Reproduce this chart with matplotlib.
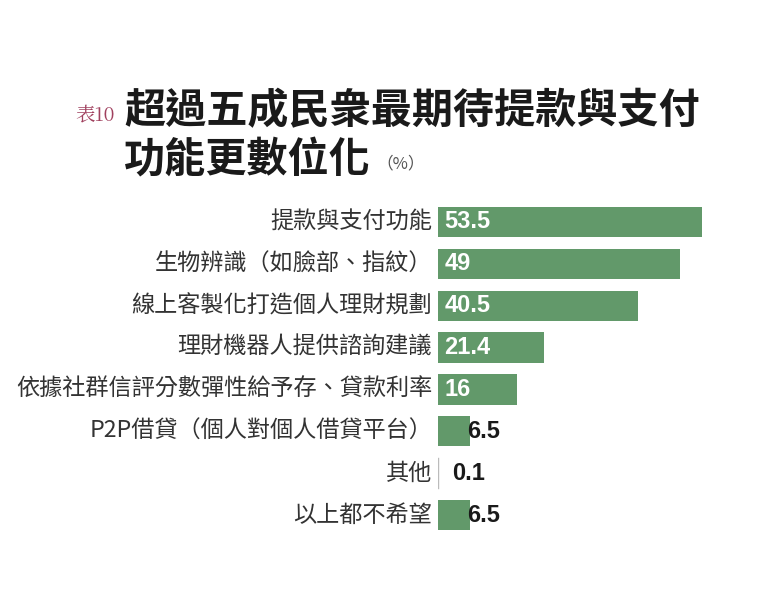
import matplotlib
matplotlib.use('Agg')
import matplotlib.pyplot as plt

plt.rcParams['font.family'] = ['Noto Sans CJK TC', 'DejaVu Sans']

# data
labels = ['提款與支付功能', '生物辨識（如臉部、指紋）', '線上客製化打造個人理財規劃',
          '理財機器人提供諮詢建議', '依據社群信評分數彈性給予存、貸款利率',
          'P2P借貸（個人對個人借貸平台）', '其他', '以上都不希望']
values = [53.5, 49, 40.5, 21.4, 16, 6.5, 0.1, 6.5]
value_text = ['53.5', '49', '40.5', '21.4', '16', '6.5', '0.1', '6.5']

green = '#62996a'
W, H = 759, 597
fig = plt.figure(figsize=(W / 100, H / 100), dpi=100)

ax = fig.add_axes([438 / W, 1 - 536 / H, 321 / W, 335 / H])
ypos = list(range(len(values)))
ax.barh(ypos, values, height=0.72, color=green)
ax.set_xlim(0, 65)
ax.set_ylim(len(values) - 0.5, -0.5)
ax.axis('off')

for y, v, t, lab in zip(ypos, values, value_text, labels):
    if v > 10:
        ax.text(1.3, y, t, color='white', fontsize=17, fontweight='bold',
                family='Liberation Sans', va='center', ha='left')
    else:
        x = v - 0.7 if v > 3 else v + 2.7
        ax.text(x, y, t, color='#1a1a1a', fontsize=17, fontweight='bold',
                family='Liberation Sans', va='center', ha='left')
    ax.text(-1.2, y, lab, color='#333333', fontsize=16.7, va='center', ha='right',
            family=['Noto Sans CJK TC', 'DejaVu Sans'])

# tiny bar for 0.1 appears as a thin grey line
ax.plot([0, 0], [6 - 0.36, 6 + 0.36], color='#bbbbbb', lw=1)

# titles
fig.text(75 / W, 1 - 116 / H, '表10', color='#a0405e', fontsize=14,
         family=['Noto Serif CJK TC', 'Noto Sans CJK TC'], va='center', ha='left')
fig.text(124 / W, 1 - 111 / H, '超過五成民衆最期待提款與支付', color='#1a1a1a',
         fontsize=29.6, fontweight='bold', va='center', ha='left')
fig.text(124 / W, 1 - 160 / H, '功能更數位化', color='#1a1a1a',
         fontsize=29.6, fontweight='bold', va='center', ha='left')
fig.text(376 / W, 1 - 164 / H, '（%）', color='#555555', fontsize=12,
         va='center', ha='left')

fig.savefig('out.png', dpi=100, facecolor='white')
